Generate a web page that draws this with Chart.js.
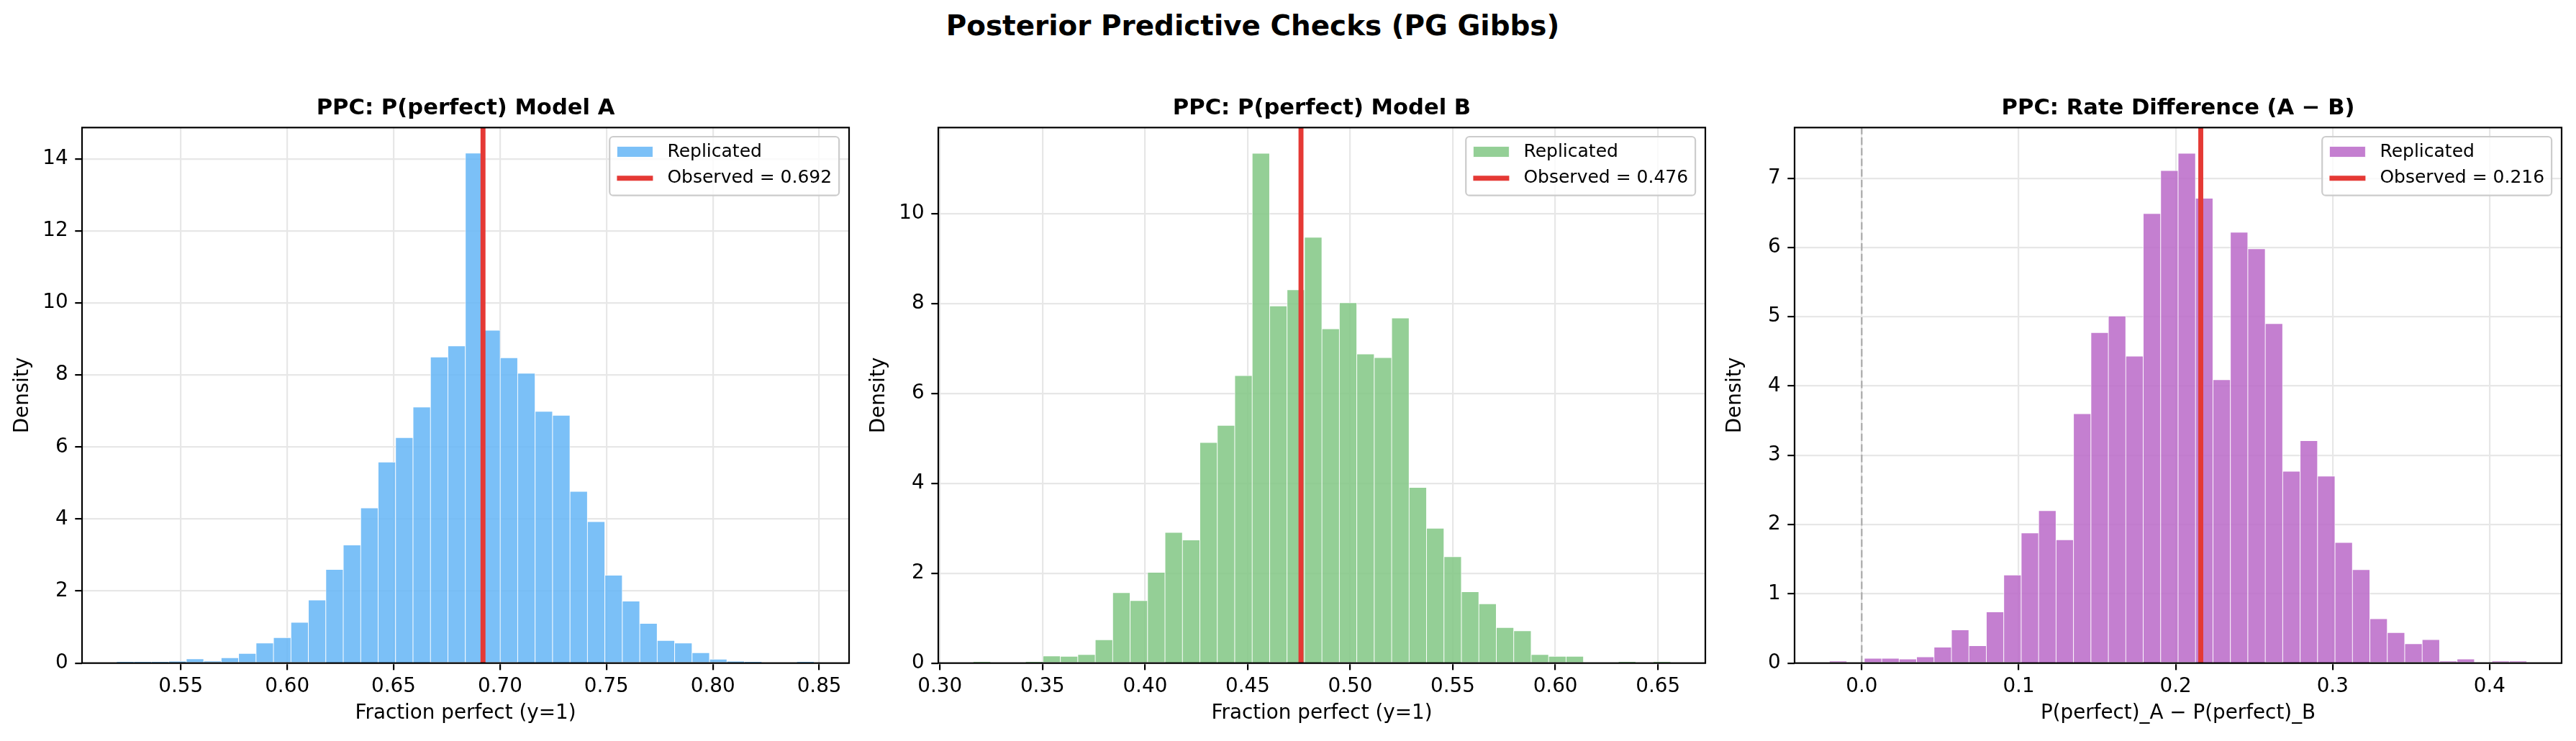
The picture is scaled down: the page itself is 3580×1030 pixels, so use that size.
<!DOCTYPE html>
<html>
<head>
<meta charset="utf-8">
<title>Posterior Predictive Checks (PG Gibbs)</title>
<script src="https://cdn.jsdelivr.net/npm/chart.js@4.4.1/dist/chart.umd.min.js"></script>
<style>
  html, body { margin: 0; padding: 0; background: #fff; }
  body { width: 3580px; height: 1030px; position: relative; overflow: hidden; }
  #suptitle { position: absolute; left: 0; top: 17px; width: 3482px; text-align: center;
              font: bold 38.9px 'DejaVu Sans', sans-serif; line-height: 38.9px; color: #000; white-space: nowrap; }
  canvas { position: absolute; top: 0; }
</style>
</head>
<body>
<div id="suptitle">Posterior Predictive Checks (PG Gibbs)</div>
<canvas id="ppcA" width="1190" height="1030" style="left:0px"></canvas>
<canvas id="ppcB" width="1190" height="1030" style="left:1190px"></canvas>
<canvas id="ppcC" width="1190" height="1030" style="left:2380px"></canvas>
<script>
// histogram densities, 40 bins each
const densA = [0.03, 0.03, 0.03, 0.05, 0.12, 0.06, 0.15, 0.27, 0.56, 0.71,
               1.13, 1.75, 2.60, 3.28, 4.31, 5.58, 6.26, 7.11, 8.50, 8.81,
               14.16, 9.24, 8.48, 8.05, 6.99, 6.88, 4.77, 3.93, 2.44, 1.72,
               1.10, 0.63, 0.56, 0.29, 0.11, 0.05, 0.03, 0, 0, 0.03];
const densB = [0.03, 0, 0, 0.03, 0.16, 0.15, 0.19, 0.52, 1.57, 1.39,
               2.02, 2.91, 2.74, 4.91, 5.29, 6.40, 11.35, 7.95, 8.31, 9.48,
               7.44, 8.02, 6.88, 6.80, 7.68, 3.91, 3.00, 2.37, 1.59, 1.32,
               0.79, 0.72, 0.19, 0.15, 0.15, 0, 0, 0.03, 0, 0.03];
const densC = [0.03, 0, 0.07, 0.07, 0.06, 0.09, 0.23, 0.48, 0.25, 0.74,
               1.27, 1.88, 2.20, 1.78, 3.60, 4.77, 5.01, 4.43, 6.49, 7.11,
               7.36, 6.71, 4.09, 6.22, 5.98, 4.90, 2.77, 3.21, 2.70, 1.74,
               1.35, 0.64, 0.44, 0.28, 0.34, 0.03, 0.06, 0, 0.03, 0.03];

// histogram range [first edge, last edge]
const rangeA = [0.5198, 0.8476];
const rangeB = [0.3162, 0.6562];
const rangeC = [-0.0206, 0.4237];

// observed statistics
const observedA = 0.692;
const observedB = 0.476;
const observedC = 0.216;

// axis limits
const xLimA = [0.5036, 0.8640];
const xLimB = [0.2992, 0.6731];
const xLimC = [-0.0428, 0.4459];
const yMaxA = 14.87;
const yMaxB = 11.92;
const yMaxC = 7.73;

const FONT = "'DejaVu Sans', sans-serif";
Chart.defaults.font.family = FONT;
Chart.defaults.color = '#000';

function binCenters(range, n) {
    const w = (range[1] - range[0]) / n;
    const out = [];
    for (let k = 0; k < n; k++) out.push(range[0] + (k + 0.5) * w);
    return out;
}

// matplotlib-like legend box in the upper right of the plot area
const boxLegend = {
    id: 'boxLegend',
    afterDraw(chart) {
        const ctx = chart.ctx, area = chart.chartArea;
        const items = chart.data.datasets.filter(d => !d.hideInLegend);
        ctx.save();
        ctx.font = '25px ' + FONT;
        const textW = Math.max(...items.map(d => ctx.measureText(d.label).width));
        const w = 10.2 + 50 + 20 + textW + 10, h = 81.7;
        const x = area.right - 13.9 - w, y = area.top + 12.7;
        ctx.beginPath();
        ctx.roundRect(x, y, w, h, 5);
        ctx.fillStyle = 'rgba(255,255,255,0.8)';
        ctx.fill();
        ctx.lineWidth = 2.2;
        ctx.strokeStyle = '#cccccc';
        ctx.stroke();
        items.forEach((d, i) => {
            const cy = y + 21 + i * 36.7;
            const hx = x + 10.2;
            if (d.type === 'line') {
                ctx.beginPath();
                ctx.moveTo(hx, cy);
                ctx.lineTo(hx + 50, cy);
                ctx.strokeStyle = d.borderColor;
                ctx.lineWidth = d.borderWidth;
                ctx.stroke();
            } else {
                ctx.fillStyle = d.backgroundColor;
                ctx.fillRect(hx, cy - 7.5, 50, 15);
                ctx.strokeStyle = 'rgba(255,255,255,0.85)';
                ctx.lineWidth = 1;
                ctx.strokeRect(hx, cy - 7.5, 50, 15);
            }
            ctx.fillStyle = '#000';
            ctx.textBaseline = 'middle';
            ctx.textAlign = 'left';
            ctx.fillText(d.label, hx + 70, cy);
        });
        ctx.restore();
    }
};

// four black spines round the plot area
const spines = {
    id: 'spines',
    afterDatasetsDraw(chart) {
        const ctx = chart.ctx, a = chart.chartArea;
        ctx.save();
        ctx.lineWidth = 2.2;
        ctx.strokeStyle = '#000';
        ctx.strokeRect(a.left, a.top, a.right - a.left, a.bottom - a.top);
        ctx.restore();
    }
};

function makePanel(id, p) {
    const centers = binCenters(p.range, p.dens.length);
    const datasets = [
        {
            type: 'bar', label: 'Replicated',
            data: centers.map((x, i) => ({x: x, y: p.dens[i]})),
            backgroundColor: p.fill,
            borderColor: 'rgba(255,255,255,0.85)',
            borderWidth: 0.8,
            barPercentage: 1, categoryPercentage: 1,
            order: 3
        },
        {
            type: 'line', label: 'Observed = ' + p.observed.toFixed(3),
            data: [{x: p.observed, y: 0}, {x: p.observed, y: p.yMax}],
            borderColor: '#e53935', borderWidth: 6.9,
            borderCapStyle: 'butt', pointRadius: 0, fill: false,
            order: 0
        }
    ];
    if (p.zeroLine) {
        datasets.push({
            type: 'line', label: 'zero', hideInLegend: true,
            data: [{x: 0, y: 0}, {x: 0, y: p.yMax}],
            borderColor: 'rgba(128,128,128,0.6)', borderWidth: 2.2,
            borderDash: [10.3, 4.4], pointRadius: 0, fill: false,
            order: 1
        });
    }
    const tickFont = {family: FONT, size: 27.8};
    return new Chart(document.getElementById(id), {
        type: 'bar',
        data: {datasets: datasets},
        options: {
            responsive: false,
            animation: false,
            events: [],
            layout: {padding: {left: 0, right: 10, top: 0, bottom: 0}},
            plugins: {
                legend: {display: false},
                tooltip: {enabled: false},
                title: {
                    display: true, text: p.title, fullSize: false,
                    font: {family: FONT, size: 30.6, weight: 'bold'},
                    color: '#000',
                    padding: {top: 132.7, bottom: 7.9}
                }
            },
            scales: {
                x: {
                    type: 'linear', min: p.xLim[0], max: p.xLim[1], offset: false,
                    afterFit: s => { s.height = 108.3; },
                    ticks: {
                        stepSize: p.xStep, includeBounds: false, autoSkip: false, maxRotation: 0,
                        callback: v => v.toFixed(p.xDigits),
                        font: tickFont, color: '#000', padding: 7
                    },
                    grid: {offset: false, color: '#e7e7e7', lineWidth: 2.2, tickColor: '#000', tickLength: 9.7, tickWidth: 2.2},
                    border: {display: false},
                    title: {display: true, text: p.xLabel, font: tickFont, color: '#000', padding: {top: 0, bottom: 22}}
                },
                y: {
                    min: 0, max: p.yMax,
                    afterFit: s => { s.width = 114; },
                    ticks: {
                        stepSize: p.yStep, includeBounds: false, autoSkip: false,
                        callback: v => String(v),
                        font: tickFont, color: '#000', padding: 9.7
                    },
                    grid: {color: '#e7e7e7', lineWidth: 2.2, tickColor: '#000', tickLength: 9.7, tickWidth: 2.2},
                    border: {display: false},
                    title: {display: true, text: 'Density', font: tickFont, color: '#000', padding: {top: 14.6, bottom: 0}}
                }
            }
        },
        plugins: [spines, boxLegend]
    });
}

makePanel('ppcA', {
    title: 'PPC: P(perfect) Model A', xLabel: 'Fraction perfect (y=1)',
    dens: densA, range: rangeA, observed: observedA,
    xLim: xLimA, xStep: 0.05, xDigits: 2, yMax: yMaxA, yStep: 2,
    fill: 'rgba(100,181,246,0.85)'
});
makePanel('ppcB', {
    title: 'PPC: P(perfect) Model B', xLabel: 'Fraction perfect (y=1)',
    dens: densB, range: rangeB, observed: observedB,
    xLim: xLimB, xStep: 0.05, xDigits: 2, yMax: yMaxB, yStep: 2,
    fill: 'rgba(129,199,132,0.85)'
});
makePanel('ppcC', {
    title: 'PPC: Rate Difference (A \u2212 B)', xLabel: 'P(perfect)_A \u2212 P(perfect)_B',
    dens: densC, range: rangeC, observed: observedC,
    xLim: xLimC, xStep: 0.1, xDigits: 1, yMax: yMaxC, yStep: 1,
    fill: 'rgba(186,104,200,0.85)', zeroLine: true
});
</script>
</body>
</html>
